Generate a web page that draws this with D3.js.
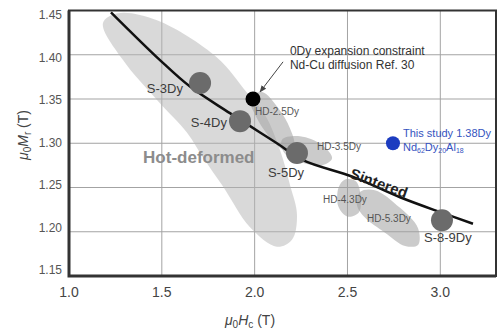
<!DOCTYPE html>
<html>
<head>
<meta charset="utf-8">
<script src="https://cdn.jsdelivr.net/npm/d3@7"></script>
<style>
  body { margin: 0; background: #fff; }
  svg { display: block; font-family: "Liberation Sans", Arial, sans-serif; }
</style>
</head>
<body>
<svg id="chart" width="500" height="329"></svg>
<script>
// axis ticks
const xTicks = [1.0, 1.5, 2.0, 2.5, 3.0];
const yTicks = [1.15, 1.2, 1.25, 1.3, 1.35, 1.4, 1.45];

// sintered magnets [Hc, Mr, label]
const sintered = [
  [1.706, 1.368, "S-3Dy"],
  [1.921, 1.325, "S-4Dy"],
  [2.228, 1.289, "S-5Dy"],
  [3.009, 1.213, "S-8-9Dy"]
];
const zeroDy = [1.991, 1.35];
const thisStudy = [2.745, 1.3];

// trend line of sintered magnets
const sinteredLine = [
  [1.226, 1.448], [1.49, 1.394], [1.652, 1.364], [1.867, 1.334],
  [2.12, 1.3], [2.26, 1.281], [2.53, 1.262], [2.783, 1.239],
  [3.015, 1.221], [3.176, 1.209]
];

// hot-deformed regions (outlines in data units)
const hotDeformed = [
  [1.183, 1.436], [1.264, 1.447], [1.474, 1.439], [1.797, 1.397],
  [1.959, 1.357], [2.056, 1.332], [2.137, 1.292], [2.19, 1.253],
  [2.228, 1.219], [2.201, 1.191], [2.12, 1.183], [1.975, 1.205],
  [1.83, 1.251], [1.722, 1.284], [1.636, 1.312], [1.474, 1.349],
  [1.291, 1.394]
];
const hd25 = [
  [1.975, 1.351], [2.04, 1.358], [2.126, 1.34], [2.19, 1.317],
  [2.212, 1.298], [2.163, 1.292], [2.093, 1.304], [2.018, 1.326]
];
const hd35 = [
  [2.147, 1.304], [2.244, 1.308], [2.363, 1.298], [2.417, 1.283],
  [2.363, 1.275], [2.244, 1.279], [2.16, 1.289]
];
const hd43 = [
  [2.452, 1.25], [2.487, 1.259], [2.545, 1.257], [2.57, 1.242],
  [2.562, 1.222], [2.503, 1.217], [2.452, 1.228]
];
const hd53 = [
  [2.567, 1.245], [2.648, 1.247], [2.783, 1.227], [2.88, 1.204],
  [2.88, 1.185], [2.81, 1.184], [2.702, 1.199], [2.594, 1.216],
  [2.551, 1.23]
];

// small grey labels [Hc, Mr, text]
const hdLabels = [
  [2.002, 1.336, "HD-2.5Dy"],
  [2.336, 1.296, "HD-3.5Dy"],
  [2.368, 1.236, "HD-4.3Dy"],
  [2.605, 1.2155, "HD-5.3Dy"]
];

const svg = d3.select("#chart");
const pLeft = 69, pRight = 496, pTop = 10.5, pBottom = 276;

const x = d3.scaleLinear().domain([1.0, 3.3]).range([pLeft, pRight]);
const y = d3.scaleLinear().domain([1.15, 1.45]).range([pBottom, pTop]);
// tick labels sit a little off the grid in the original figure
const yLab = d3.scaleLinear().domain([1.15, 1.45]).range([270, 15]);

// grid
const grid = svg.append("g");
grid.selectAll(".v")
  .data(xTicks.slice(1))
  .enter()
  .append("line")
  .attr("x1", d => x(d)).attr("x2", d => x(d))
  .attr("y1", pTop).attr("y2", pBottom)
  .attr("stroke", "#a3a3a3").attr("stroke-width", 1);
grid.selectAll(".h")
  .data(yTicks.slice(1, -1))
  .enter()
  .append("line")
  .attr("x1", pLeft).attr("x2", pRight)
  .attr("y1", d => y(d)).attr("y2", d => y(d))
  .attr("stroke", "#a3a3a3").attr("stroke-width", 1);

// regions
const area = d3.line()
  .x(d => x(d[0]))
  .y(d => y(d[1]))
  .curve(d3.curveCatmullRomClosed);

svg.append("path").attr("d", area(hotDeformed))
  .attr("fill", "#b4b4b4").attr("fill-opacity", 0.5);
[hd25, hd35, hd43, hd53].forEach(function (r) {
  svg.append("path").attr("d", area(r))
    .attr("fill", "#a0a0a0").attr("fill-opacity", 0.55);
});

svg.append("text")
  .attr("x", x(1.399)).attr("y", y(1.2845)).attr("dy", "0.35em")
  .attr("font-size", 17).attr("font-weight", "bold")
  .attr("fill", "#8c8c8c")
  .text("Hot-deformed");

// sintered trend
const trend = d3.line()
  .x(d => x(d[0]))
  .y(d => y(d[1]))
  .curve(d3.curveCatmullRom);
svg.append("path").attr("d", trend(sinteredLine))
  .attr("fill", "none").attr("stroke", "#111").attr("stroke-width", 2.5);

svg.append("text")
  .attr("transform", "translate(" + x(2.67) + "," + y(1.255) + ") rotate(20)")
  .attr("text-anchor", "middle").attr("dy", "0.35em")
  .attr("font-size", 15).attr("font-weight", "bold")
  .attr("fill", "#222")
  .text("Sintered");

// points
svg.selectAll(".s")
  .data(sintered)
  .enter()
  .append("circle")
  .attr("cx", d => x(d[0])).attr("cy", d => y(d[1]))
  .attr("r", 11)
  .attr("fill", "#6b6b6b");

svg.append("circle")
  .attr("cx", x(zeroDy[0])).attr("cy", y(zeroDy[1]))
  .attr("r", 7.5).attr("fill", "#000");

svg.append("circle")
  .attr("cx", x(thisStudy[0])).attr("cy", y(thisStudy[1]))
  .attr("r", 7).attr("fill", "#1c3cc0");

// sample labels
const sLabelPos = [
  [1.614, 1.362, "end"],
  [1.851, 1.324, "end"],
  [2.169, 1.2675, "middle"],
  [3.041, 1.193, "middle"]
];
svg.selectAll(".sl")
  .data(sintered)
  .enter()
  .append("text")
  .attr("x", (d, i) => x(sLabelPos[i][0]))
  .attr("y", (d, i) => y(sLabelPos[i][1]))
  .attr("dy", "0.35em")
  .attr("text-anchor", (d, i) => sLabelPos[i][2])
  .attr("font-size", 13)
  .attr("fill", "#3c3c3c")
  .text(d => d[2]);

svg.selectAll(".hl")
  .data(hdLabels)
  .enter()
  .append("text")
  .attr("x", d => x(d[0])).attr("y", d => y(d[1]))
  .attr("dy", "0.35em")
  .attr("font-size", 10)
  .attr("fill", "#555")
  .text(d => d[2]);

// 0Dy annotation
svg.append("defs").append("marker")
  .attr("id", "arrow")
  .attr("viewBox", "0 0 10 10")
  .attr("refX", 9).attr("refY", 5)
  .attr("markerWidth", 7).attr("markerHeight", 7)
  .attr("orient", "auto")
  .append("path").attr("d", "M0,1 L10,5 L0,9 Z").attr("fill", "#444");

svg.append("line")
  .attr("x1", x(2.153)).attr("y1", y(1.392))
  .attr("x2", x(2.029)).attr("y2", y(1.358))
  .attr("stroke", "#444").attr("stroke-width", 1)
  .attr("marker-end", "url(#arrow)");

const note = svg.append("text")
  .attr("x", x(2.19)).attr("y", y(1.405))
  .attr("font-size", 12).attr("fill", "#333");
note.append("tspan").attr("x", x(2.19)).attr("dy", "0.35em").text("0Dy expansion constraint");
note.append("tspan").attr("x", x(2.19)).attr("dy", "1.2em").text("Nd-Cu diffusion Ref. 30");

// this study label
const blue = svg.append("text")
  .attr("x", x(2.799)).attr("y", y(1.3116))
  .attr("font-size", 11).attr("fill", "#3553c0");
blue.append("tspan").attr("x", x(2.799)).attr("dy", "0.35em").text("This study 1.38Dy");
const l2 = blue.append("tspan").attr("x", x(2.799)).attr("dy", "1.25em");
l2.append("tspan").text("Nd");
l2.append("tspan").attr("font-size", 7).attr("dy", 2).text("62");
l2.append("tspan").attr("dy", -2).text("Dy");
l2.append("tspan").attr("font-size", 7).attr("dy", 2).text("20");
l2.append("tspan").attr("dy", -2).text("Al");
l2.append("tspan").attr("font-size", 7).attr("dy", 2).text("18");

// frame
svg.append("rect")
  .attr("x", pLeft).attr("y", pTop)
  .attr("width", pRight - pLeft).attr("height", pBottom - pTop)
  .attr("fill", "none").attr("stroke", "#333").attr("stroke-width", 2);
svg.append("path")
  .attr("d", "M" + pLeft + "," + pTop + "V" + pBottom + "H" + pRight)
  .attr("fill", "none").attr("stroke", "#333").attr("stroke-width", 3);

// tick labels
svg.selectAll(".xt")
  .data(xTicks)
  .enter()
  .append("text")
  .attr("x", d => x(d)).attr("y", 292).attr("dy", "0.35em")
  .attr("text-anchor", "middle")
  .attr("font-size", 14).attr("fill", "#444")
  .text(d3.format(".1f"));

svg.selectAll(".yt")
  .data(yTicks)
  .enter()
  .append("text")
  .attr("x", 62).attr("y", d => yLab(d)).attr("dy", "0.35em")
  .attr("text-anchor", "end")
  .attr("font-size", 12).attr("fill", "#555")
  .text(d3.format(".2f"));

// axis titles
function title(el, main, sub) {
  el.append("tspan").attr("font-style", "italic").text("\u03bc");
  el.append("tspan").attr("font-size", 10).attr("dy", 3).text("0");
  el.append("tspan").attr("font-style", "italic").attr("dy", -3).text(main);
  el.append("tspan").attr("font-size", 10).attr("dy", 3).text(sub);
  el.append("tspan").attr("dy", -3).text(" (T)");
}
const xt = svg.append("text")
  .attr("x", 250).attr("y", 325)
  .attr("text-anchor", "middle")
  .attr("font-size", 14).attr("fill", "#444");
title(xt, "H", "c");

const yt = svg.append("text")
  .attr("transform", "translate(28,135) rotate(-90)")
  .attr("text-anchor", "middle")
  .attr("font-size", 14).attr("fill", "#444");
title(yt, "M", "r");
</script>
</body>
</html>
